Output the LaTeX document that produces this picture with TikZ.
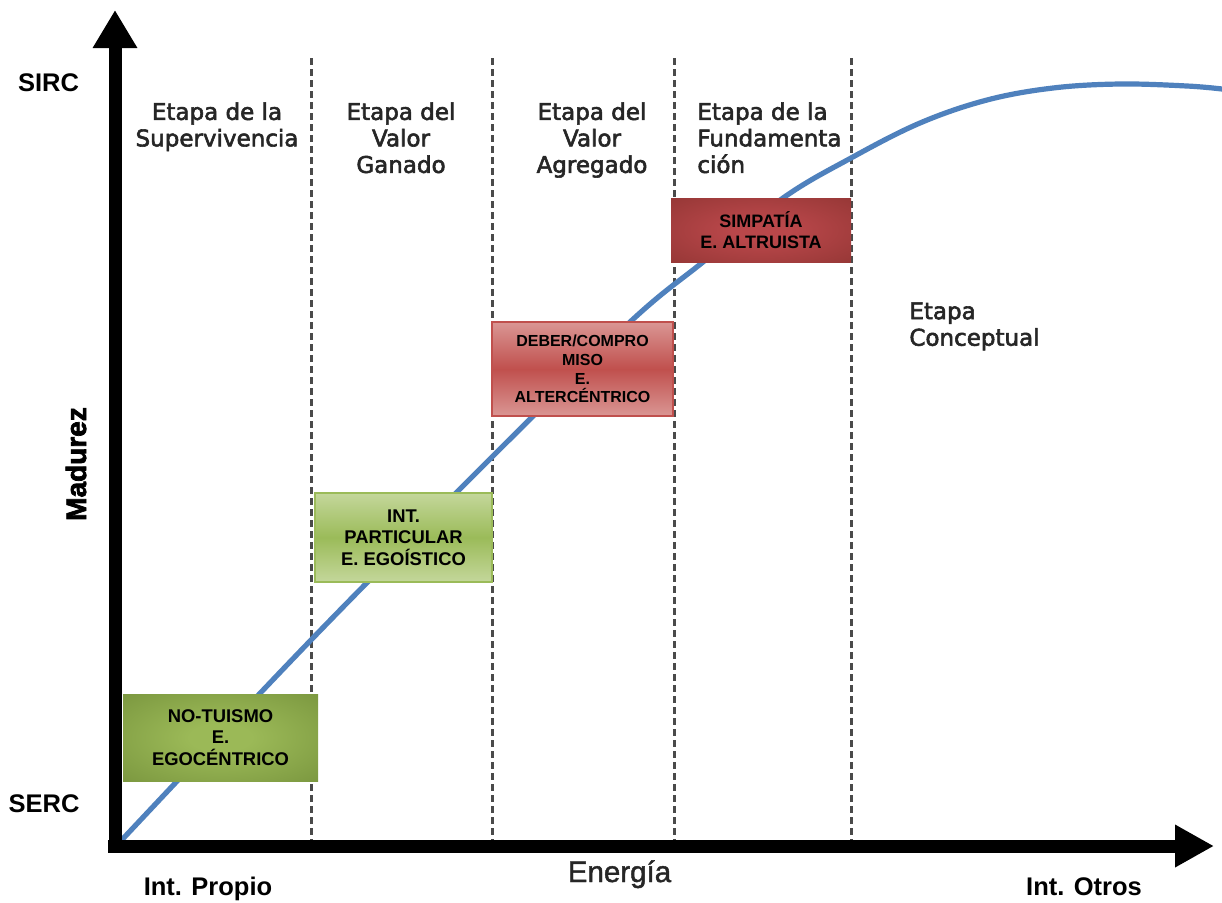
\documentclass[tikz,border=0pt]{standalone}
\usepackage{fontspec}
\setmainfont{Liberation Sans}
\newfontfamily\stagefont[FakeBold=2.5]{DejaVu Sans}
\newfontfamily\heavyfont[FakeBold=2.5]{Liberation Sans Bold}
\newfontfamily\enfont[FakeBold=1.5]{Liberation Sans}
\usetikzlibrary{arrows.meta}
\definecolor{curveblue}{HTML}{4F81BD}
\definecolor{dashgray}{HTML}{4A4A4A}
\definecolor{stagegray}{HTML}{262626}
\definecolor{gC}{HTML}{9BB957}
\definecolor{gE}{HTML}{718D38}
\definecolor{gL}{HTML}{C4D79B}
\definecolor{gM}{HTML}{9BBB59}
\definecolor{rL}{HTML}{DA9694}
\definecolor{rM}{HTML}{C0504D}
\definecolor{rC}{HTML}{B9474A}
\definecolor{rE}{HTML}{8F3432}
\pgfdeclareradialshading{greenglow}{\pgfpoint{0bp}{0bp}}{color(0bp)=(gC); color(8bp)=(gC); color(45bp)=(gE); color(75bp)=(gE)}
\pgfdeclareradialshading{redglow}{\pgfpoint{0bp}{0bp}}{color(0bp)=(rC); color(8bp)=(rC); color(42bp)=(rE); color(75bp)=(rE)}
\tikzset{
  stage/.style={inner sep=0pt, text=stagegray, font={\stagefont\fontsize{11.5pt}{13.25pt}\selectfont}},
  boxtxt/.style={inner sep=0pt, align=center, text=black, font={\bfseries\fontsize{9.2pt}{10.8pt}\selectfont}},
  axislbl/.style={inner sep=0pt, text=black, font={\bfseries\fontsize{12.75pt}{15pt}\selectfont}},
  divider/.style={dashgray, line width=1.5pt, dash pattern=on 3.5pt off 2pt},
  curveline/.style={curveblue, line width=2.6pt, line cap=round},
  axisline/.style={black, line width=6.5pt, line cap=butt}
}
\begin{document}
\begin{tikzpicture}[x=0.5pt,y=-0.5pt]
\useasboundingbox (0,0) rectangle (1222,902);
\fill[white] (0,0) rectangle (1222,902);

% stage dividers
\foreach \xx/\nm in {311/d1,492/d2,674/d3,851/d4}{
  \coordinate (\nm t) at (\xx,58);
  \coordinate (\nm b) at (\xx,845);
  \draw[divider] (\nm t) -- (\nm b);
}

% curve
\draw[curveline] plot[smooth, tension=0.6] coordinates {(118,844) (311,640) (492,457) (630,322) (703,262) (783,198) (851,158) (920,123) (987,100) (1053,88) (1120,84) (1187,86) (1222,89)};

% boxes
\node[boxtxt, minimum width=97.5pt, minimum height=43.5pt, shading=greenglow] (b1) at (220.5,737.5) {NO-TUISMO\\E.\\EGOCÉNTRICO};
\node[boxtxt, minimum width=88.5pt, minimum height=44.5pt, draw=gM, line width=1pt, top color=gL, bottom color=gL, middle color=gM] (b2) at (403.5,537.5) {INT.\\PARTICULAR\\E. EGOÍSTICO};
\node[boxtxt, minimum width=90.5pt, minimum height=47pt, draw=rM, line width=1pt, top color=rL, bottom color=rL, middle color=rM, font={\bfseries\fontsize{8pt}{9.3pt}\selectfont}] (b3) at (582.5,369) {DEBER/COMPRO\\MISO\\E.\\ALTERCÉNTRICO};
\node[boxtxt, minimum width=90pt, minimum height=32pt, shading=redglow, font={\bfseries\fontsize{9pt}{10.7pt}\selectfont}] (b4) at (761,230) {SIMPATÍA\\E. ALTRUISTA};

% axes
\coordinate (O) at (115,852);
\coordinate (ytip) at (115,10);
\coordinate (xs) at (108,846);
\coordinate (xtip) at (1214,846);
\draw[axisline, -{Triangle[width=21pt,length=19pt]}] (O) -- (ytip);
\draw[axisline, -{Triangle[width=20pt,length=19.5pt]}] (xs) -- (xtip);

% stage labels
\node[stage, align=center, anchor=north] (s1) at (217,102) {Etapa de la\\Supervivencia};
\node[stage, align=center, anchor=north] (s2) at (401,102) {Etapa del\\Valor\\Ganado};
\node[stage, align=center, anchor=north] (s3) at (592,102) {Etapa del\\Valor\\Agregado};
\node[stage, align=left, anchor=north west] (s4) at (697,102) {Etapa de la\\Fundamenta\\ción};
\node[stage, align=left, anchor=north west] (s5) at (909,302) {Etapa\\Conceptual};

% axis labels
\node[axislbl] (sirc) at (48.5,82.5) {SIRC};
\node[axislbl] (serc) at (44,804) {SERC};
\node[axislbl, anchor=base] (ip) at (208,895) {Int. Propio};
\node[axislbl, anchor=base] (io) at (1084,895) {Int. Otros};
\node[inner sep=0pt, anchor=base, text=stagegray, font={\enfont\fontsize{14.75pt}{17pt}\selectfont}] (en) at (619.5,882) {Energía};
\node[inner sep=0pt, rotate=90, text=black, font={\heavyfont\fontsize{14pt}{16pt}\selectfont}] (mad) at (76,464) {Madurez};
\end{tikzpicture}
\end{document}
